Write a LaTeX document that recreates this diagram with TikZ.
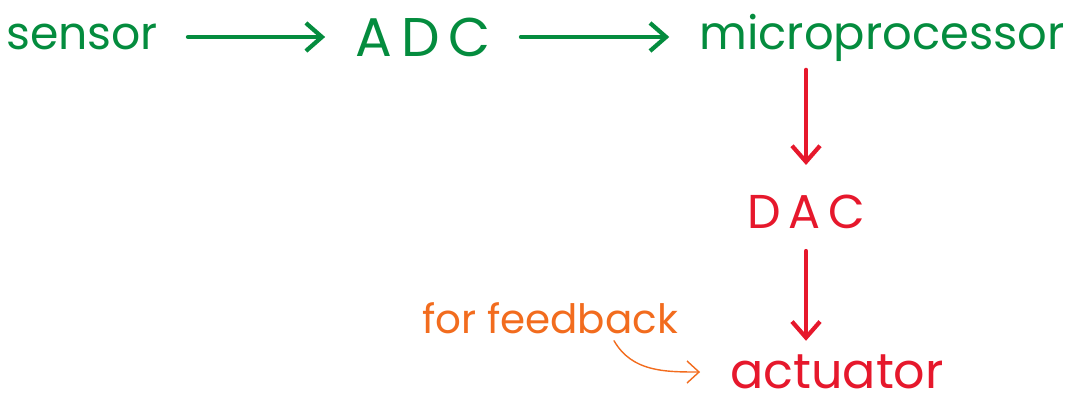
\documentclass[tikz,border=0pt]{standalone}
\usepackage{fontspec}
\setmainfont{Poppins}
\usetikzlibrary{calc}
\usetikzlibrary{arrows.meta}
\definecolor{inkgreen}{RGB}{4,140,62}
\definecolor{inkred}{RGB}{230,24,44}
\definecolor{inkorange}{RGB}{242,108,30}
\tikzset{
	every path/.style={line width=1.2pt, line cap=round},
	word/.style={
		inner sep=0pt,
		font=\fontsize{14}{17}\selectfont,
	},
	flow/.style={
		-{Straight Barb[length=1.6mm,width=2.8mm,line width=1.2pt]},
		shorten <=0.28cm,
		shorten >=0.28cm,
	},
	greenflow/.style={flow, draw=inkgreen},
	redflow/.style={flow, draw=inkred},
	note/.style={
		thin,
		draw=inkorange,
		-{Straight Barb[length=1.2mm,width=2.2mm]},
	},
}

\begin{document}
\begin{tikzpicture}[x=0.01cm, y=-0.01cm]
		\useasboundingbox (0,0) rectangle (1074,412);

		\node[word,text=inkgreen,font=\fontsize{13}{16}\selectfont] (sensor) at (82,37) {sensor};
		\node[word,text=inkgreen,font=\fontsize{15.5}{18}\selectfont] (adc) at (423,37) {A\,D\,C};
		\node[word,text=inkgreen,font=\fontsize{13.2}{16}\selectfont] (mproc) at (882,38) {microprocessor};

		\node[word,text=inkred,font=\fontsize{13.5}{16}\selectfont] (dac) at (806,212) {D\,A\,C};
		\node[word,text=inkred,font=\fontsize{14}{17}\selectfont] (actuator) at (837,372) {actuator};

		\node[word,text=inkorange,font=\fontsize{11.5}{14}\selectfont] (feedback) at (550,318) {for feedback};

		\draw[greenflow] 		(sensor) -- (adc);
		\draw[greenflow] 		(adc) -- (mproc.west |- adc.east);

		\draw[redflow,shorten <=0.06cm] 	(dac.north |- mproc.south) -- (dac.north);
		\draw[redflow,shorten <=0.2cm,shorten >=0.12cm] 	(dac.south) -- (dac.south |- actuator.north);

		\draw[note] 			([xshift=-0.66cm,yshift=-0.05cm]feedback.south east) to[out=-60,in=180] ([xshift=-0.28cm]actuator.west);

	\end{tikzpicture}
\end{document}
